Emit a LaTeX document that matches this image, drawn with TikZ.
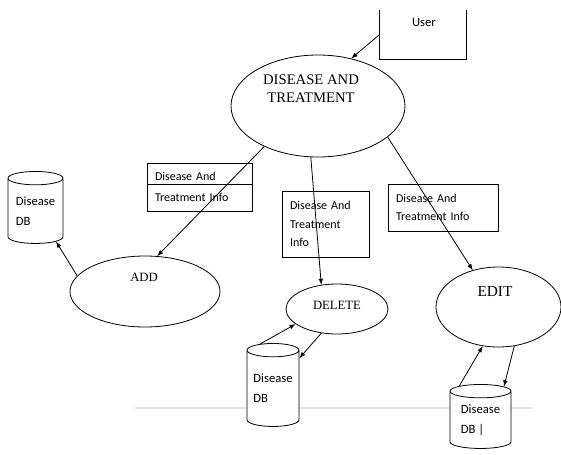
\documentclass[tikz,border=0pt]{standalone}
\usepackage{fontspec}
\setmainfont{Liberation Serif}
\newfontfamily\boxfont{Carlito}
\usetikzlibrary{shapes.geometric}

\begin{document}
\begin{tikzpicture}[x=0.75pt, y=-0.75pt, line width=0.6pt,
  process/.style={draw, ellipse, inner sep=0pt},
  proclabel/.style={align=center, inner sep=0pt},
  infobox/.style={draw, rectangle, align=left, inner xsep=6pt, inner ysep=0pt,
    font=\boxfont\fontsize{9}{14}\selectfont},
  dbstore/.style={draw, fill=white, cylinder, shape border rotate=90, aspect=0.34,
    inner sep=0pt, align=left, font=\boxfont\fontsize{9.5}{15}\selectfont},
  >=latex]

\useasboundingbox (0,0) rectangle (561,454);
\clip (0,0) rectangle (561,454);

% faint rule across the lower part
\draw [gray!20, thick] (135,408) -- (532,408);

% User box (open at the top)
\node [minimum width=64.5pt, minimum height=36.75pt] (user) at (423,34.5) {};
\draw (user.north west) -- (user.south west) -- (user.south east) -- (user.north east);
\node [font=\boxfont\fontsize{9.5}{14}\selectfont] (userlbl) at (424,22) {User};

% processes
\node [process, minimum width=130.5pt, minimum height=76.5pt] (main) at (318,106) {};
\node [proclabel, font=\fontsize{11}{13.5}\selectfont] (mainlbl) at (311,89) {DISEASE AND\\TREATMENT};

\node [process, minimum width=112.5pt, minimum height=53.25pt] (add) at (145,291.5) {};
\node [proclabel, font=\fontsize{9.5}{12}\selectfont] (addlbl) at (144,277) {ADD};

\node [process, minimum width=76.5pt, minimum height=37.5pt] (delete) at (337,309) {};
\node [proclabel, font=\fontsize{9.5}{12}\selectfont] (deletelbl) at (337,305) {DELETE};

\node [process, minimum width=93.75pt, minimum height=60pt] (edit) at (498.5,307) {};
\node [proclabel, font=\fontsize{11.5}{13}\selectfont] (editlbl) at (495,291) {EDIT};

% data stores
\node [dbstore, minimum width=41.25pt, minimum height=54pt] (adddb) at (35.5,211) {Disease\\DB};
\node [dbstore, minimum width=39pt, minimum height=62.25pt] (deletedb) at (273,388.5) {Disease\\DB};
\node [dbstore, minimum width=45.75pt, minimum height=48pt] (editdb) at (480.5,420) {Disease\\DB |};

% info boxes
\node [infobox, text width=66.75pt, minimum height=36pt,
  font=\boxfont\fontsize{9}{15.75}\selectfont] (addinfo) at (199.5,187) {Disease And\\Treatment Info};
\draw ([yshift=2.25pt]addinfo.west) -- ([yshift=2.25pt]addinfo.east);
\node [infobox, text width=53.25pt, minimum height=49.5pt] (deleteinfo) at (325.5,224) {Disease And\\Treatment\\Info};
\node [infobox, text width=70.5pt, minimum height=35.25pt,
  font=\boxfont\fontsize{9}{13}\selectfont] (editinfo) at (443,207.5) {Disease And\\Treatment Info};

% flows
\draw [->] (user.west) -- (main.55);
\draw [->] (main.217) -- (add.71);
\draw [->] (main.262) -- (delete.123);
\draw [->] (main.336) -- (edit.125);
\draw [->] (add.167) -- (adddb.304);
\draw [->] (deletedb.106) -- (delete.200);
\draw [->] (delete.237) -- (deletedb.49);
\draw [->] (editdb.122) -- (edit.248);
\draw [->] (edit.292) -- (editdb.55);

\end{tikzpicture}
\end{document}
